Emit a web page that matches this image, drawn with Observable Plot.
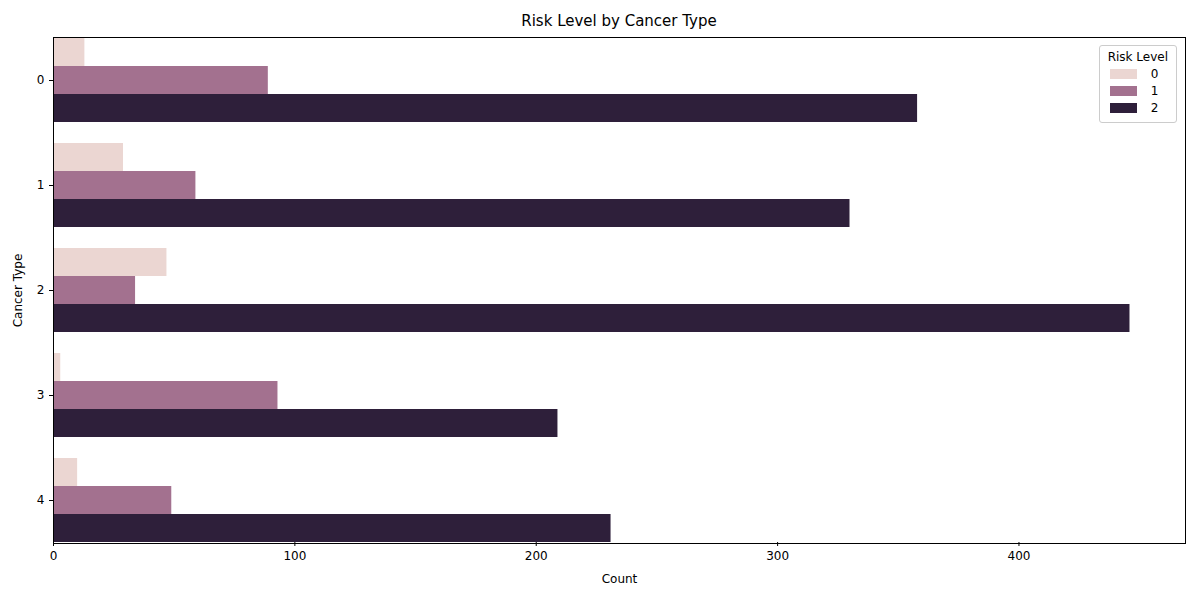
<!DOCTYPE html>
<html><head>
<script src="https://cdn.jsdelivr.net/npm/d3@7"></script>
<script src="https://cdn.jsdelivr.net/npm/@observablehq/plot@0.6"></script>
<style>
body{margin:0;font-family:"DejaVu Sans",sans-serif;background:#fff}
#wrap{position:relative;width:1200px;height:600px}
#title{position:absolute;top:12px;left:53px;width:1132px;text-align:center;font-size:15px;color:#000}
#border{position:absolute;left:53px;top:37px;width:1131px;height:505px;border:1px solid #000;pointer-events:none}
#legend{position:absolute;right:23px;top:45px;background:#fff;border:1px solid #ccc;border-radius:3px;padding:4px 8px;font-size:12px}
#legend .r{display:flex;align-items:center;margin:3px 0}
#legend .s{width:27px;height:10px;margin-right:14px;margin-left:2px}
</style></head><body>
<div id="wrap"><div id="chart"></div><div id="title">Risk Level by Cancer Type</div><div id="border"></div><div id="legend"></div></div>
<script>
const types = ["0","1","2","3","4"];
const risks = ["0","1","2"];
const colors = ["#ebd6d2","#a3718f","#2e1f3a"];
const risk0 = [13,29,47,3,10];
const risk1 = [89,59,34,93,49];
const risk2 = [358,330,446,209,231];
const xTicks = [0,100,200,300,400];
const vals=[risk0,risk1,risk2];
const data=[];
types.forEach((t,i)=>risks.forEach((r,j)=>data.push({type:t,risk:r,count:vals[j][i]})));
const chart = Plot.plot({
  width:1200,height:600,marginTop:37,marginBottom:58,marginLeft:53,marginRight:15,
  style:{fontFamily:"DejaVu Sans",fontSize:"12px",color:"#000"},
  x:{domain:[0,469],ticks:xTicks,label:"Count",labelAnchor:"center",labelArrow:"none",labelOffset:40,tickSize:4},
  fy:{domain:types,padding:0.2,label:"Cancer Type",labelAnchor:"center",labelArrow:"none",tickSize:4},
  y:{domain:risks,padding:0,axis:null},
  color:{domain:risks,range:colors},
  marks:[
    Plot.barX(data,{x:"count",y:"risk",fy:"type",fill:"risk"}),
    Plot.axisFy({anchor:"left",label:"Cancer Type",labelAnchor:"center",labelArrow:"none",tickSize:4,labelOffset:40})
  ]
});
document.getElementById("chart").appendChild(chart);
const lg=document.getElementById("legend");
lg.innerHTML='<div style="text-align:center;margin-bottom:2px">Risk Level</div>'+risks.map((r,i)=>`<div class="r"><div class="s" style="background:${colors[i]}"></div>${r}</div>`).join("");
</script></body></html>
